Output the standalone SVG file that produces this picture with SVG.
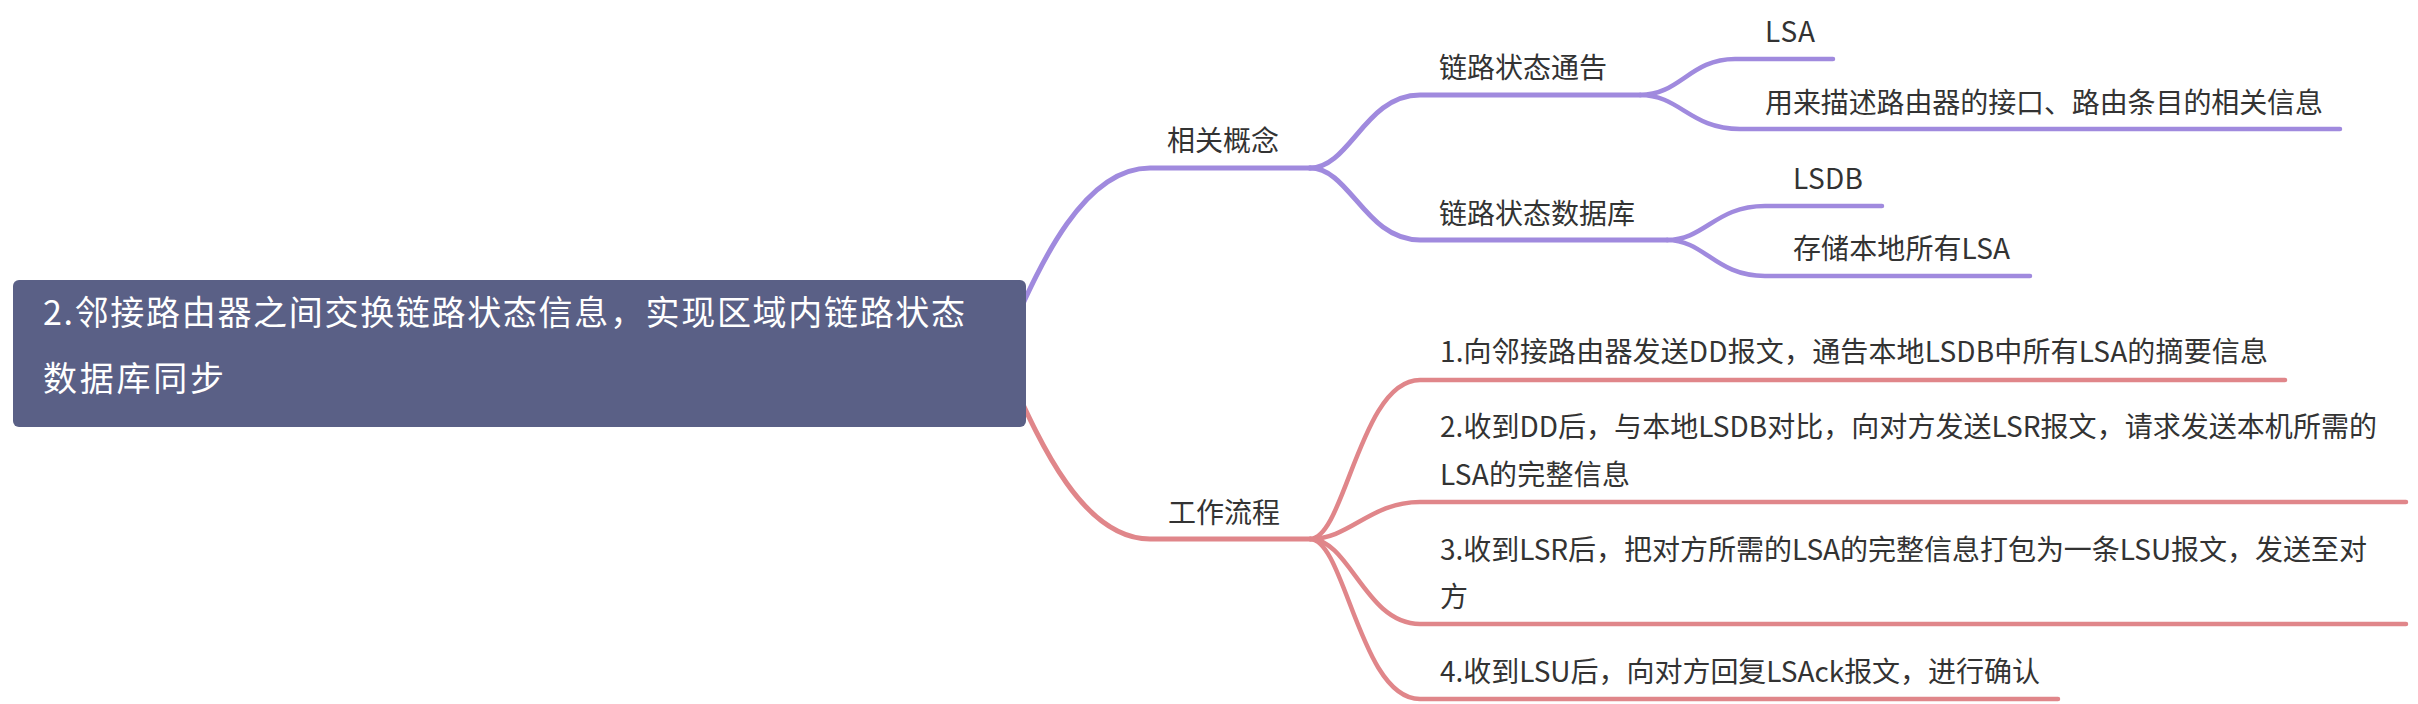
<svg xmlns="http://www.w3.org/2000/svg" width="2418" height="704" viewBox="0 0 2418 704">
<style>
.t{font-family:"Noto Sans CJK SC","Microsoft YaHei",sans-serif;font-size:28px;fill:#333333}
.root{font-family:"Noto Sans CJK SC","Microsoft YaHei",sans-serif;font-size:34px;fill:#ffffff}
.p{fill:none;stroke:#a08ade;stroke-width:5;stroke-linecap:round;stroke-linejoin:round}
.r{fill:none;stroke:#e0868a;stroke-width:5;stroke-linecap:round;stroke-linejoin:round}
.lf{stroke-width:4.5}
</style>
<rect width="2418" height="704" fill="#ffffff"/>
<g id="connectors">
<path class="p" d="M1000,354 C1030,290 1075,168 1150,168 H1310"/>
<path class="p" d="M1310,168 C1350,168 1365,95 1420,95 H1640"/>
<path class="p" d="M1310,168 C1350,168 1365,240 1420,240 H1667"/>
<path class="p lf" d="M1640,95 C1680,95 1690,59 1735,59 H1833"/>
<path class="p lf" d="M1640,95 C1680,95 1690,129 1740,129 H2340"/>
<path class="p lf" d="M1667,240 C1705,240 1715,206 1765,206 H1882"/>
<path class="p lf" d="M1667,240 C1705,240 1715,276 1765,276 H2030"/>
<path class="r" d="M1000,354 C1030,418 1075,539 1150,539 H1310"/>
<path class="r lf" d="M1310,539 C1345,539 1360,380 1420,380 H2285"/>
<path class="r lf" d="M1310,539 C1350,539 1370,502 1420,502 H2406"/>
<path class="r lf" d="M1310,539 C1350,539 1365,624 1420,624 H2406"/>
<path class="r lf" d="M1310,539 C1345,539 1360,699 1420,699 H2058"/>
</g>
<g id="root">
<rect x="13" y="280" width="1013" height="147" rx="6" fill="#5a6086"/>
<text class="root" x="43" y="325" textLength="922" lengthAdjust="spacing">2.邻接路由器之间交换链路状态信息，实现区域内链路状态</text>
<text class="root" x="43" y="391" textLength="181" lengthAdjust="spacing">数据库同步</text>
</g>
<g id="n-concepts"><text class="t" x="1167" y="151">相关概念</text></g>
<g id="n-lsa-adv"><text class="t" x="1439" y="78">链路状态通告</text></g>
<g id="n-lsdb-cn"><text class="t" x="1439" y="224">链路状态数据库</text></g>
<g id="n-lsa"><text class="t" x="1765" y="42" textLength="50" lengthAdjust="spacing">LSA</text></g>
<g id="n-lsa-desc"><text class="t" x="1765" y="113" textLength="558" lengthAdjust="spacing">用来描述路由器的接口、路由条目的相关信息</text></g>
<g id="n-lsdb"><text class="t" x="1793" y="189" textLength="70" lengthAdjust="spacing">LSDB</text></g>
<g id="n-lsdb-desc"><text class="t" x="1793" y="259" textLength="217" lengthAdjust="spacing">存储本地所有LSA</text></g>
<g id="n-process"><text class="t" x="1168" y="523">工作流程</text></g>
<g id="n-step1"><text class="t" x="1440" y="362" textLength="828" lengthAdjust="spacing">1.向邻接路由器发送DD报文，通告本地LSDB中所有LSA的摘要信息</text></g>
<g id="n-step2">
<text class="t" x="1440" y="437" textLength="937" lengthAdjust="spacing">2.收到DD后，与本地LSDB对比，向对方发送LSR报文，请求发送本机所需的</text>
<text class="t" x="1440" y="485" textLength="190" lengthAdjust="spacing">LSA的完整信息</text>
</g>
<g id="n-step3">
<text class="t" x="1440" y="560" textLength="927" lengthAdjust="spacing">3.收到LSR后，把对方所需的LSA的完整信息打包为一条LSU报文，发送至对</text>
<text class="t" x="1440" y="607">方</text>
</g>
<g id="n-step4"><text class="t" x="1440" y="682" textLength="600" lengthAdjust="spacing">4.收到LSU后，向对方回复LSAck报文，进行确认</text></g>
</svg>
